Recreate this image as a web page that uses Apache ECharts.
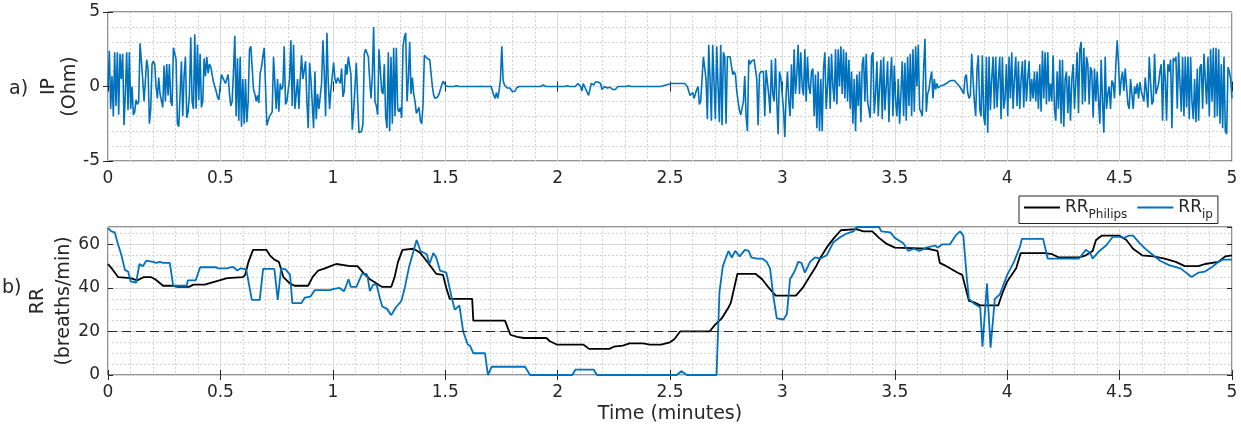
<!DOCTYPE html>
<html>
<head>
<meta charset="utf-8">
<script src="https://cdn.jsdelivr.net/npm/echarts@6/dist/echarts.min.js"></script>
<style>
  html, body { margin: 0; padding: 0; background: #fff; }
  #chart { width: 1241px; height: 429px; }
</style>
</head>
<body>
<div id="chart"></div>
<script>
// impedance pneumography signal (Ohm), evenly sampled over 5 minutes
const ipDuration = 5;
const ipSignal = [
  // 0 - 0.74 min
  0, 2.4, -1.5, 0.7, -2.0, 2.3, -1.3, 2.3, -1.9, 2.2,
  0.5, 2.2, -2.6, -0.5, 2.3, -1.6, 2.3, -1.5, 0, -1.9,
  -1.7, -0.9, -1.2, -1.0, 2.9, 2.8, 0.5, -1.0, -1.0, 1.8,
  1.2, -2.5, -1.5, 1.5, 1.7, 1.5, 0, -0.8, 0.6, -0.5,
  -0.5, -1.4, 1.4, -1.0, 1.5, -0.6, 1.5, -1.0, -1.3, 2.6,
  2.6, 1.8, -2.5, -2.7, -0.5, 1.7, -2.0, 0.7, 2.0, -2.1,
  -1.7, -0.5, 3.3, -1.0, -1.5, 3.5, -1.5, 2.8, -0.9, 2.2,
  -1.4, -1.0, 1.9, 0.7, 2.0, 0.9, 1.5, 1.3, 0.8, 0.3,
  0.4, -0.3, -0.7, -0.9, 0, 0.8, 0.6, 0.7, 0.2, 0.3,
  0.8, -0.5, -1.3, -1.0, 1.0, 3.4, -2.0, 1.9, -2.3, 2.0,
  -2.7, 0.5, -2.5, 0.5, -2.4, -1.0, 2.5, 2.7, 2.7, -0.2,
  -0.5, -1.0, -0.6, -1.1, 0.9, 1.3, 2.0, 2.6, 2.6, -2.6,
  -2.6, -2.0, -1.9, -1.7, 2.0,
  // 0.74 - 1.48 min
  2.0, -1.5, 0.5, -1.7, 0.2, -0.2, 0, 2.7, -1.2, -1.0,
  -0.9, 0.5, 3.1, -1.3, 2.8, -1.5, -0.5, 0.5, -1.5, 0.5,
  2.1, 0.5, 0.5, 1.7, -1.0, -2.8, 1.6, 0.5, 0.5, -2.8,
  1.0, -2.2, -0.5, -1.5, -1.5,
  0.2, 3.1, 1.0, -2.0, 3.6, 0.3, -1.5, -0.2, -0.2, 1.6,
  0.5, 0.2, 0.6, 0.4, 0.2, 1.2, -0.7, -0.3, 1.5, 0.8,
  2.0, 2.1, 0.8, -2.9, -1.7, -1.6, 1.6, 1.6, -3.1, -3.1,
  -3.0, -2.5, 2.2, 2.5, 2.6, 2.0, 0.5, -0.8, 0.7, 4.0,
  -1.0, -1.3, -1.9, 2.5, 2.5, -0.3, -0.5, 1.5, -2.0, -2.8,
  2.3, -3.0, 2.0, -2.5, 2.6, -2.0, 2.6, -1.5, -1.7, -1.4,
  -2.1, 2.7, 3.3, 3.6, -1.0, 0.5, 3.0, -0.5, 0.6, -0.5,
  -1.0, -1.8, -1.9, -1.4, -2.3, -2.5, -1.2, 2.1, 2.0, 1.9,
  1.9, 1.8, 1.8, 0, -0.6, -0.8, -0.8, -0.7, -0.5,
  // 1.48 - 2.55 min (quiet)
  -0.2, 0.1, 0.35, 0.45, 0.05,
  0, 0, 0, 0, 0.02, 0, 0, 0.05, 0, 0,
  0, 0, 0, 0, 0, 0, 0, 0, 0, 0,
  0, 0, 0, 0, 0, 0.02, 0, 0, 0, 0,
  0, 0, 0, 0, 0,
  -0.6, -0.8, -0.4, -0.8, -0.3, 0.5, 2.7, 0.4, 0.1, 0,
  -0.1, -0.2, -0.1, -0.2, -0.35, -0.4, -0.3, -0.1,
  0, 0, 0, 0, 0, 0, 0, 0, 0, 0,
  0, 0, 0, 0, 0, 0, 0, 0, 0.05, 0.1,
  0.05, 0, 0, 0, 0, 0, 0, 0, 0, 0,
  0, 0, 0, 0, 0, 0, 0, 0.05, 0, 0,
  0, 0, 0, 0,
  0.1, 0.2, 0.3, 0, -0.3, 0.2, 0.1, -0.2, -0.1, -0.6,
  -0.2, 0.2, 0.1, 0.1, 0.3, 0.2, 0.3, 0.2, 0.2, -0.2,
  -0.3, 0, 0, -0.1, -0.1, -0.05, -0.1, -0.2, -0.3, -0.2,
  -0.1, 0,
  0, 0, 0, 0, 0, 0, 0.05, 0.05, 0, 0,
  0, 0, 0, 0, 0, 0, 0, 0, 0.05, 0,
  0, 0, 0, 0, 0, 0, 0, 0, 0, 0,
  0, 0, 0, 0.05, 0.05, 0.1, 0.1, 0.15, 0.15, 0.2,
  0.2, 0.2, 0.2,
  0.2, 0.2, 0.2,
  // 2.55 - 3.39 min
  0.2, 0.2, 0.2, 0.2, 0.1, 0.0,
  -0.3, -0.6, -0.7, -0.4, -0.8, -0.5, -0.2, 0, -1.2, -1.0, 0.5,
  2.0, 1.9, 0.5, -2.2,
  2.8, 0.5, -2.3, 2.8, 0.3, -2.2, 2.7, 0, -2.4, 2.8, -2.6, 2.3, 2.0, -2.5,
  2.0, 2.0, 2.0, 1.9, 0.8, 1.0, 0.8, -0.3, -1.0, -1.6, -1.9, -2.0,
  -1.0, 0.7, -2.0, -3.0, 1.8, 1.5, 1.7, 1.7, 1.8, 1.7, 0.5, -2.6,
  0.8, 1.0, 1.0, 1.0, -2.0, 1.1, 1.0, -0.6, -1.8, 1.8, -0.5, -1.0, 1.9,
  -1.0, -3.2, 1.0, 0.6, 0.5, -1.5, -3.4, -0.5, 1.0, -1.0, -2.0, 1.5, -1.5,
  2.5, -0.5, 0.8, 2.8, -0.5, 2.3, 0, -0.6, 2.5, -1.0, 2.0, 0, -0.5, 1.0, 1.2,
  -2.0, 0.8, -2.8, 1.0, -3.0, 0.5, -3.0, 1.2, 2.3,
  -1.5, 0, 2.0, -1.5, 2.2, 0, -1.0, 2.5, -1.2, 2.5,
  0, 2.7, -0.5, 2.5, -0.8, 2.3, -1.0, 1.8, -1.5, 1.0,
  -2.5, 0.5, -3.0, 0.8, -1.3, 1.0, -2.4, 1.5, 2.0, -1.0,
  2.2, -1.0,
  // 3.39 - 4.19 min
  -1.0, -2.1, 2.0, 2.3, -1.8, -0.5, 1.7, -2.0, 0, 1.8,
  -2.2, 2.0, -1.6, 0, 1.7, -2.4, 0.5, 2.0, -2.0, 1.4,
  -1.0, -2.0, 0.5, -2.5, -2.6, 1.7, -2.0, 1.6, -2.3, 2.0,
  -1.3, 2.2, -2.0, 2.5, -1.7, 2.7, 0, 2.8, -1.5, -1.7,
  -2.0, 1.2, 3.2, -1.7, -0.5, -0.2, 0.5, 1.0, -0.8, 0.5,
  -0.2, 0.2, -0.1, 0, 0.05, 0.1, 0.1, 0.1, 0.2, 0.3,
  0.35, 0.4, 0.4, 0.45, 0.4, 0.35, 0.2, 0.1, 0, -0.1,
  -0.3, -0.5, 0.6, 0.8, -0.4, -0.8, -0.6, 2.2, 0.5, -1.0,
  -2.0, 1.2, 2.1, -1.5, -2.0, 2.1, -2.0, -2.6, 2.0, -3.1,
  2.0, -1.6, 0.5, 2.0, -1.5, 2.0, -1.4, 0.5, 2.0, -2.2,
  2.0, -1.5, -0.8, 1.5, -2.0, 2.0, -0.8, 2.3, -1.5, 0.5,
  2.0, -1.3, 1.7, -1.5, 0.5, 1.7, -1.4, 1.8, -1.0, 0.5,
  1.7, -1.0, 0.5, -0.8, 1.0, -1.0, 1.0, -1.5, 1.5, -1.7,
  2.4, -0.8, 2.3, -1.2, 2.3, -1.0,
  // 4.19 - 5 min
  0.2, -1.0, 2.1, -1.5, -2.3, 1.0, -1.5, 1.8, -2.5, 1.8,
  -2.7, 0.5, 1.0, -1.8, 0.7, -2.3, 0.5, 1.5, -1.5, 0.3,
  2.3, -1.8, 2.5, 3.0, -1.2, 2.6, -1.0, 2.0, 1.5, -1.2,
  1.3, 1.0, -2.1, 1.2, -1.0, 1.0, -0.9, -2.5, 1.8, -1.0,
  -3.1, 2.0, -1.5, -0.5, 0, -1.5, 0.4, 0.2, -0.8, 1.5,
  3.1, 1.5, -0.6, 0.5, 1.0, -0.3, 1.2, 1.2, -1.2, -1.5,
  0.5, 0.5, -1.5, 0, -0.5, 0.2, -0.8, 0.3, -0.3, -0.2,
  -1.0, 0.6, 0.5, -1.4, 2.0, 0.3, -1.2, -1.0, 2.2, -0.5,
  -0.5, 0.2, 1.0, 1.5, -2.3, 1.8, 0.5, -2.3, 1.5, 1.0,
  1.8, -2.8, 1.9, 1.7, 2.0, -1.5, 2.3, 2.2, -1.7, 2.0,
  -2.0, 2.0, -1.4, 2.0, -2.2, 2.0, -1.0, -2.2, 0.5, -2.4,
  1.2, -2.3, 1.3, 1.5, -1.5, 2.2, 2.3, -1.2, 2.0, -2.0,
  2.5, -1.0, 2.6, -2.1, 2.6, -2.0, 2.5, -2.5, 1.5, -2.8,
  2.0, -3.0, -3.2, 1.3, 1.0, 0.5, -0.8
];

// respiratory rate, Philips monitor (breaths/min)
const rrPhilipsTime = [
  0, 0.02, 0.045, 0.1, 0.13, 0.16, 0.19, 0.21, 0.245, 0.29,
  0.31, 0.36, 0.38, 0.43, 0.53, 0.6, 0.61, 0.625, 0.645, 0.705,
  0.72, 0.74, 0.76, 0.78, 0.81, 0.83, 0.89, 0.91, 0.935, 0.965,
  0.99, 1.015, 1.05, 1.075, 1.11, 1.135, 1.165, 1.195, 1.21, 1.22,
  1.26, 1.275, 1.29, 1.31, 1.36, 1.39, 1.42, 1.46, 1.49, 1.505,
  1.52, 1.62, 1.625, 1.766, 1.79, 1.82, 1.85, 1.95, 1.966, 1.996,
  2.114, 2.14, 2.23, 2.25, 2.29, 2.32, 2.38, 2.41, 2.46, 2.5,
  2.52, 2.545, 2.676, 2.7, 2.73, 2.76, 2.77, 2.8, 2.88, 2.91,
  2.94, 2.97, 3.06, 3.09, 3.12, 3.15, 3.17, 3.2, 3.23, 3.26,
  3.33, 3.36, 3.4, 3.43, 3.46, 3.5, 3.65, 3.69, 3.7, 3.72,
  3.78, 3.8, 3.83, 3.85, 3.88, 3.96, 3.98, 4.0, 4.04, 4.06,
  4.17, 4.2, 4.23, 4.32, 4.35, 4.38, 4.395, 4.42, 4.5, 4.53,
  4.56, 4.6, 4.65, 4.7, 4.75, 4.79, 4.85, 4.88, 4.94, 4.97,
  5.0
];
const rrPhilips = [
  51, 48.5, 45, 44.5, 43.5, 45, 45, 44, 41, 41,
  40.5, 40.5, 41.5, 41.5, 44.5, 45, 46, 52, 57.5, 57.5,
  55, 53, 52, 45, 42, 41, 41, 45, 48, 49,
  50, 51, 50.5, 50, 50, 47, 44, 42, 41, 40.5,
  40.5, 45, 52, 57.5, 58, 56, 52, 46.5, 46, 40,
  35, 35, 25, 25, 18.5, 17.5, 17, 17, 15.5, 14,
  14, 12, 12, 13, 13.5, 14.5, 14.5, 14, 14, 15,
  16.5, 20, 20, 23, 26, 31, 33, 46.5, 46.5, 44,
  40, 36.5, 36.5, 40, 45, 50, 54, 59, 63, 66.5,
  67, 66, 66, 63, 60.5, 58.5, 58, 57, 51.5, 50.5,
  47, 46, 34, 33.5, 32, 32, 38, 43, 49, 56,
  56, 55.5, 54, 54, 55, 57, 62, 64, 64, 62,
  58, 55, 54.5, 53.5, 52, 50, 50, 51, 52, 54.5,
  55
];

// respiratory rate estimated from IP (breaths/min)
const rrIpTime = [
  0, 0.015, 0.03, 0.045, 0.06, 0.075, 0.09, 0.1, 0.125, 0.14,
  0.155, 0.17, 0.2, 0.215, 0.23, 0.245, 0.275, 0.29, 0.35, 0.355,
  0.39, 0.41, 0.48, 0.49, 0.53, 0.545, 0.56, 0.575, 0.59, 0.615,
  0.63, 0.64, 0.675, 0.69, 0.74, 0.755, 0.77, 0.79, 0.81, 0.82,
  0.86, 0.875, 0.9, 0.92, 0.955, 0.99, 1.0, 1.03, 1.05, 1.07,
  1.08, 1.105, 1.13, 1.15, 1.155, 1.165, 1.18, 1.195, 1.21, 1.22,
  1.24, 1.26, 1.28, 1.305, 1.32, 1.34, 1.373, 1.39, 1.418, 1.43,
  1.447, 1.46, 1.477, 1.505, 1.53, 1.543, 1.563, 1.58, 1.6, 1.61,
  1.625, 1.677, 1.69, 1.707, 1.855, 1.878, 2.065, 2.08, 2.16, 2.175,
  2.53, 2.55, 2.575, 2.707, 2.72, 2.735, 2.76, 2.775, 2.79, 2.81,
  2.833, 2.85, 2.862, 2.885, 2.91, 2.93, 2.945, 2.96, 2.975, 3.005,
  3.02, 3.034, 3.056, 3.07, 3.085, 3.1, 3.123, 3.145, 3.17, 3.197,
  3.227, 3.26, 3.286, 3.316, 3.33, 3.43, 3.44, 3.48, 3.5, 3.538,
  3.56, 3.585, 3.61, 3.64, 3.68, 3.69, 3.71, 3.745, 3.77, 3.79,
  3.805, 3.82, 3.83, 3.85, 3.88, 3.89, 3.91, 3.926, 3.945, 3.967,
  4.0, 4.03, 4.057, 4.065, 4.16, 4.18, 4.32, 4.35, 4.37, 4.38,
  4.41, 4.44, 4.47, 4.5, 4.52, 4.54, 4.56, 4.59, 4.62, 4.65,
  4.68, 4.72, 4.77, 4.79, 4.82, 4.85, 4.88, 4.91, 4.94, 4.96,
  5.0
];
const rrIp = [
  67.5, 66, 65.5, 60, 55, 48.3, 47.5, 43, 42.5, 51,
  50, 52.5, 52, 51.5, 52, 51.5, 51.5, 41, 41, 43.5,
  43.5, 49.5, 49.5, 49, 49, 49.5, 49.5, 48, 49, 48.5,
  40, 34.5, 34.5, 48.8, 48.8, 34.5, 49, 48.5, 46, 33,
  33, 35.5, 36, 39, 39, 39, 39.5, 40, 38.5, 44,
  40.5, 40.5, 46.5, 46.5, 45, 38.5, 41.5, 41.5, 35, 31.5,
  30.5, 27.5, 31, 34, 40, 50, 62, 57, 55.5, 51,
  56, 54, 48, 47, 35, 30, 32, 20, 14, 13.5,
  10, 10, 0, 3.8, 3.8, 0, 0, 2.5, 2.5, 0,
  0, 1.8, 0, 0, 38, 50, 57, 54, 57, 54.5,
  57.5, 57, 54, 53.5, 53.5, 52, 49, 36, 26, 25.5,
  28, 44, 48, 52, 51.5, 47, 52, 54, 53.5, 55,
  61, 63.5, 65, 66, 68, 68, 66, 65.5, 63, 60.5,
  57, 58, 57, 58.5, 59.5, 58.5, 60, 60, 64, 66,
  64, 45, 35, 33, 31, 13, 42, 12.5, 35, 37,
  46, 52, 59, 62.5, 62.5, 53.5, 53.5, 57.5, 56, 53.5,
  57, 59.5, 63.5, 63.5, 63, 64, 64, 60.5, 57.5, 55,
  52.5, 50.5, 49, 47.5, 45, 47, 47.5, 49.5, 52, 53,
  53
];

const rrLimit = 20;

const xTicks = { min: 0, max: 5, interval: 0.5 };

const chart = echarts.init(document.getElementById('chart'), null, { renderer: 'canvas' });

const ipStep = ipDuration / (ipSignal.length - 1);
const ipData = ipSignal.map((v, i) => [i * ipStep, v]);
const philipsData = rrPhilipsTime.map((t, i) => [t, rrPhilips[i]]);
const rrIpData = rrIpTime.map((t, i) => [t, rrIp[i]]);

const font = 'DejaVu Sans';
const ink = '#262626';
const gridColor = '#dcdcdc';
const minorColor = '#d2d2d2';

function bottomX(gridIndex, withName) {
  return {
    type: 'value', gridIndex: gridIndex, position: 'bottom',
    min: xTicks.min, max: xTicks.max, interval: xTicks.interval,
    name: withName ? 'Time (minutes)' : '',
    nameLocation: 'middle', nameGap: 30, nameMoveOverlap: false,
    nameTextStyle: { fontFamily: font, fontSize: 19, color: ink },
    axisLine: { show: false },
    axisTick: { show: true, inside: true, length: 5, lineStyle: { color: ink } },
    axisLabel: { fontFamily: font, fontSize: 17, color: ink, margin: 9 },
    splitLine: { show: true, lineStyle: { color: gridColor, width: 1 } },
    minorTick: { show: true, splitNumber: 5, length: 0 },
    minorSplitLine: { show: true, lineStyle: { color: minorColor, type: [2, 2], width: 1 } }
  };
}

function topX(gridIndex) {
  return {
    type: 'value', gridIndex: gridIndex, position: 'top',
    min: xTicks.min, max: xTicks.max, interval: xTicks.interval,
    axisLine: { show: false },
    axisTick: { show: true, inside: true, length: 5, lineStyle: { color: ink } },
    axisLabel: { show: false },
    splitLine: { show: false }
  };
}

const option = {
  animation: false,
  backgroundColor: '#ffffff',
  textStyle: { fontFamily: font },
  grid: [
    { left: 108, right: 9, top: 12, height: 149, show: true, borderColor: ink, borderWidth: 1, backgroundColor: 'transparent' },
    { left: 108, right: 9, top: 227, height: 148, show: true, borderColor: ink, borderWidth: 1, backgroundColor: 'transparent' }
  ],
  legend: {
    left: 1019, top: 196,
    data: [
      { name: 'RR_Philips', icon: 'rect', itemStyle: { color: '#000000' } },
      { name: 'RR_ip', icon: 'rect', itemStyle: { color: '#0072BD' } }
    ],
    orient: 'horizontal',
    itemWidth: 36, itemHeight: 2, itemGap: 10,
    padding: [3, 5, 3, 5],
    borderColor: ink, borderWidth: 1, borderRadius: 0,
    backgroundColor: '#ffffff',
    selectedMode: false,
    formatter: function (name) {
      const parts = name.split('_');
      return '{a|' + parts[0] + '}{b|' + parts[1] + '}';
    },
    textStyle: {
      rich: {
        a: { fontFamily: font, fontSize: 17, color: ink, verticalAlign: 'middle' },
        b: { fontFamily: font, fontSize: 12, color: ink, verticalAlign: 'middle', padding: [14, 0, 0, 0] }
      }
    }
  },
  graphic: [
    { type: 'text', left: 9, top: 80, style: { text: 'a)', font: '19px "DejaVu Sans"', fill: ink } },
    { type: 'text', left: 2, top: 279, style: { text: 'b)', font: '19px "DejaVu Sans"', fill: ink } }
  ],
  xAxis: [bottomX(0, false), topX(0), bottomX(1, true), topX(1)],
  yAxis: [
    {
      type: 'value', gridIndex: 0, position: 'left',
      min: -5, max: 5, interval: 5,
      name: 'IP\n(Ohm)', nameLocation: 'middle', nameGap: 27, nameRotate: 90, nameMoveOverlap: false,
      nameTextStyle: { fontFamily: font, fontSize: 19, color: ink, lineHeight: 21 },
      axisLine: { show: false },
      axisTick: { show: true, inside: true, length: 5, lineStyle: { color: ink } },
      axisLabel: { fontFamily: font, fontSize: 17, color: ink, margin: 8 },
      splitLine: { show: true, lineStyle: { color: gridColor, width: 1 } },
      minorTick: { show: true, splitNumber: 5, length: 0 },
      minorSplitLine: { show: true, lineStyle: { color: minorColor, type: [2, 2], width: 1 } }
    },
    {
      type: 'value', gridIndex: 0, position: 'right',
      min: -5, max: 5, interval: 5,
      axisLine: { show: false },
      axisTick: { show: true, inside: true, length: 5, lineStyle: { color: ink } },
      axisLabel: { show: false }, splitLine: { show: false }
    },
    {
      type: 'value', gridIndex: 1, position: 'left',
      min: 0, max: 68, interval: 20,
      name: 'RR\n(breaths/min)', nameLocation: 'middle', nameGap: 31, nameRotate: 90, nameMoveOverlap: false,
      nameTextStyle: { fontFamily: font, fontSize: 19, color: ink, lineHeight: 26 },
      axisLine: { show: false },
      axisTick: { show: true, inside: true, length: 5, lineStyle: { color: ink },
        interval: function (idx, val) { return val % 20 === 0; } },
      axisLabel: { fontFamily: font, fontSize: 17, color: ink, margin: 8, showMaxLabel: false },
      splitLine: { show: true, lineStyle: { color: gridColor, width: 1 } }
    },
    {
      // minor grid of the RR panel (every 5 breaths/min)
      type: 'value', gridIndex: 1, position: 'left',
      min: 0, max: 68, interval: 5,
      axisLine: { show: false }, axisTick: { show: false }, axisLabel: { show: false },
      splitLine: { show: true, lineStyle: { color: minorColor, type: [2, 2], width: 1 } }
    },
    {
      type: 'value', gridIndex: 1, position: 'right',
      min: 0, max: 68, interval: 20,
      axisLine: { show: false },
      axisTick: { show: true, inside: true, length: 5, lineStyle: { color: ink } },
      axisLabel: { show: false }, splitLine: { show: false }
    }
  ],
  series: [
    {
      name: 'IP', type: 'line', xAxisIndex: 0, yAxisIndex: 0,
      data: ipData, showSymbol: false, symbol: 'none',
      lineStyle: { color: '#0072BD', width: 1.6 }, z: 3
    },
    {
      name: 'RR_Philips', type: 'line', xAxisIndex: 2, yAxisIndex: 2,
      data: philipsData, symbol: 'none',
      itemStyle: { color: '#000000' },
      lineStyle: { color: '#000000', width: 1.8 }, z: 3,
      markLine: {
        silent: true, symbol: 'none', label: { show: false },
        lineStyle: { color: ink, type: [9, 5], width: 1.2 },
        data: [{ yAxis: rrLimit }]
      }
    },
    {
      name: 'RR_ip', type: 'line', xAxisIndex: 2, yAxisIndex: 2,
      data: rrIpData, symbol: 'none',
      itemStyle: { color: '#0072BD' },
      lineStyle: { color: '#0072BD', width: 1.8 }, z: 4
    }
  ]
};

chart.setOption(option);
</script>
</body>
</html>
